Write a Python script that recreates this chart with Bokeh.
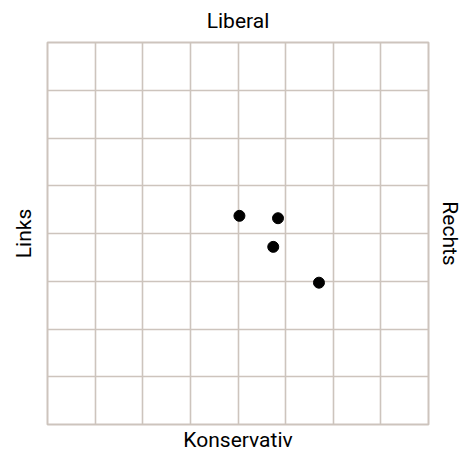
from bokeh.plotting import figure
from bokeh.models import Range1d, FixedTicker, LinearAxis
from bokeh.embed import file_html
from bokeh.resources import INLINE

# data (economic axis: links/rechts, social axis: konservativ/liberal)
x_vals = [0.03, 0.84, 0.74, 1.70]
y_vals = [0.37, 0.32, -0.28, -1.03]
grid_ticks = [-4, -3, -2, -1, 0, 1, 2, 3, 4]
label_top = "Liberal"
label_bottom = "Konservativ"
label_left = "Links"
label_right = "Rechts"

GRID = "#cdc4bd"
FONT = "Roboto"

p = figure(frame_width=381, frame_height=382,
           min_border_left=47, min_border_right=40,
           min_border_top=42, min_border_bottom=29,
           x_range=Range1d(-4, 4), y_range=Range1d(-4, 4),
           x_axis_location=None, y_axis_location=None,
           output_backend="svg", toolbar_location=None,
           background_fill_color="white", border_fill_color="white")

def make_axis(label, standoff):
    ax = LinearAxis(axis_label=label, ticker=FixedTicker(ticks=[]))
    ax.axis_line_color = None
    ax.major_tick_line_color = None
    ax.minor_tick_line_color = None
    ax.major_tick_in = 0
    ax.major_tick_out = 0
    ax.major_label_standoff = 0
    ax.axis_label_standoff = standoff
    ax.axis_label_text_font = FONT
    ax.axis_label_text_font_size = "21px"
    ax.axis_label_text_font_style = "normal"
    ax.axis_label_text_color = "#000000"
    return ax

p.add_layout(make_axis(label_bottom, 3), "below")
p.add_layout(make_axis(label_top, 10), "above")
p.add_layout(make_axis(label_left, 12), "left")
p.add_layout(make_axis(label_right, 9), "right")

p.xgrid.ticker = FixedTicker(ticks=grid_ticks)
p.ygrid.ticker = FixedTicker(ticks=grid_ticks)
for g in p.grid:
    g.grid_line_color = GRID
    g.grid_line_width = 1.6

p.outline_line_color = GRID
p.outline_line_width = 2

p.scatter(x_vals, y_vals, size=11, color="black")

open("out.html", "w").write(file_html(p, INLINE))
